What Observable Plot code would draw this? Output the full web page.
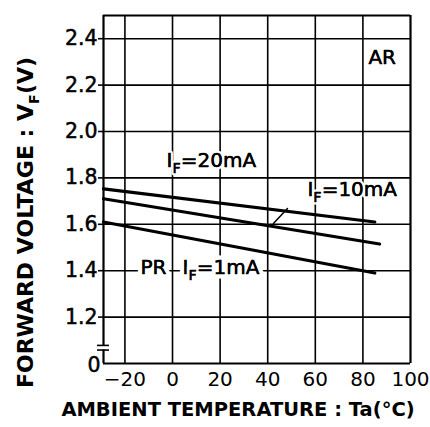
<!DOCTYPE html>
<html><head><meta charset="utf-8">
<script src="https://cdn.jsdelivr.net/npm/d3@7"></script>
<script src="https://cdn.jsdelivr.net/npm/@observablehq/plot@0.6"></script>
<style>body{margin:0;background:#fff}</style>
</head><body><div id="chart"></div>
<script>
// ---- data ----
const tempTicks = [-20, 0, 20, 40, 60, 80, 100];
const voltTicks = [1.0, 1.2, 1.4, 1.6, 1.8, 2.0, 2.2, 2.4];
const voltTickLabels = ["0", "1.2", "1.4", "1.6", "1.8", "2.0", "2.2", "2.4"];
const gridTemps = [-20, 0, 20, 40, 60, 80];
const gridVolts = [1.2, 1.4, 1.6, 1.8, 2.0, 2.2, 2.4];
const tempDomain = [-29, 100];
const voltDomain = [1.0, 2.5];
const axisBreak = [1.058, 1.078];

const temp20 = [-29, 85];  const vf20 = [1.753, 1.61];
const temp10 = [-29, 87];  const vf10 = [1.71, 1.515];
const temp1  = [-29, 85];  const vf1  = [1.61, 1.39];

const labelTexts = ["I_F=20mA", "I_F=10mA", "PR", "I_F=1mA", "AR"];
const labelTemps = [-2.5, 56.7, -13.5, 4.2, 82.3];
const labelVolts = [1.875, 1.748, 1.412, 1.412, 2.319];
const labelHalo  = [5, 5, 9, 9, 5];

const leaderTemps = [48.3, 42.4];
const leaderVolts = [1.668, 1.603];

const xTitle = "AMBIENT TEMPERATURE : Ta(°C)";
const yTitle = "FORWARD VOLTAGE : V_F(V)";

// ---- tables ----
const rows = [
  ...temp20.map((t, i) => ({series: "IF=20mA", t, v: vf20[i]})),
  ...temp10.map((t, i) => ({series: "IF=10mA", t, v: vf10[i]})),
  ...temp1.map((t, i) => ({series: "IF=1mA", t, v: vf1[i]}))
];
const labels = labelTexts.map((s, i) => ({s, t: labelTemps[i], v: labelVolts[i], h: labelHalo[i]}));
const leader = leaderTemps.map((t, i) => ({t, v: leaderVolts[i]}));
const xmin = tempDomain[0], xmax = tempDomain[1];
const ymin = voltDomain[0], ymax = voltDomain[1];
const xFmt = d => d < 0 ? "\u2212" + Math.abs(d) : String(d);
const yFmt = d => voltTickLabels[voltTicks.findIndex(v => Math.abs(v - d) < 1e-9)];

const plot = Plot.plot({
  width: 430, height: 427,
  marginLeft: 103, marginRight: 20, marginTop: 15, marginBottom: 64,
  style: {fontFamily: "DejaVu Sans", fontSize: "20px", color: "black", background: "white"},
  x: {domain: tempDomain, label: null},
  y: {domain: voltDomain, label: null},
  marks: [
    Plot.ruleX(gridTemps, {stroke: "black", strokeWidth: 1.6}),
    Plot.ruleY(gridVolts, {stroke: "black", strokeWidth: 1.6}),
    // frame (top, right, bottom) + broken left side
    Plot.ruleY([ymax, ymin], {stroke: "black", strokeWidth: 2.2}),
    Plot.ruleX([xmax], {stroke: "black", strokeWidth: 2.2}),
    Plot.ruleX([xmin], {y1: axisBreak[1], y2: ymax, stroke: "black", strokeWidth: 2.2}),
    Plot.ruleX([xmin], {y1: ymin, y2: axisBreak[0], stroke: "black", strokeWidth: 2.2}),
    Plot.ruleY(axisBreak, {x1: xmin, x2: xmin, insetLeft: -6, insetRight: -6, stroke: "black", strokeWidth: 1.6}),
    Plot.axisX({ticks: tempTicks, tickFormat: xFmt, tickSize: 0, tickPadding: 8,
      label: null, fill: "black", stroke: "black", strokeWidth: 0.5}),
    Plot.axisY({ticks: voltTicks.slice(1), tickFormat: yFmt, tickSize: 5, tickPadding: 1,
      label: null, strokeWidth: 1.6}),
    Plot.text(voltTicks.slice(1), {x: xmin, y: d => d, text: yFmt, textAnchor: "end", dx: -6,
      fontSize: 20.5, fill: "black", stroke: "black", strokeWidth: 0.5}),
    Plot.text([voltTicks[0]], {x: xmin, y: d => d, text: yFmt, textAnchor: "end", dx: -3, dy: 2,
      fontSize: 20.5, fill: "black", stroke: "black", strokeWidth: 0.5}),
    Plot.line(rows, {x: "t", y: "v", z: "series", stroke: "black", strokeWidth: 3.2}),
    Plot.line(leader, {x: "t", y: "v", stroke: "black", strokeWidth: 1.5}),
    Plot.text(labels, {x: "t", y: "v", text: "s", textAnchor: "start", lineAnchor: "middle",
      fontSize: 20, fill: "black", stroke: "white", strokeWidth: "h"}),
    Plot.text(labels, {x: "t", y: "v", text: "s", textAnchor: "start", lineAnchor: "middle",
      fontSize: 20, fill: "black", stroke: "black", strokeWidth: 0.4}),
    Plot.text([xTitle], {frameAnchor: "bottom", dx: -19, dy: 46, lineAnchor: "middle",
      fontSize: 19.5, fontWeight: "bold", fill: "black"}),
    Plot.text([yTitle], {frameAnchor: "left", dx: -78, dy: 33, rotate: -90,
      textAnchor: "middle", lineAnchor: "middle",
      fontSize: 22, fontWeight: "bold", fill: "black"})
  ]
});

// remove the axisY built-in labels (custom text marks draw them), keep tick lines
plot.querySelectorAll("g[aria-label='y-axis tick label']").forEach(g => g.remove());

// subscripts for "_F"
const ns = "http://www.w3.org/2000/svg";
plot.querySelectorAll("text").forEach(t => {
  const s = t.textContent;
  if (!s.includes("_F") || t.children.length) return;
  const [a, b] = s.split("_F");
  const fs = parseFloat(t.getAttribute("font-size") || getComputedStyle(t).fontSize) || 20;
  const shift = fs * 0.3;
  t.textContent = "";
  const t1 = document.createElementNS(ns, "tspan"); t1.textContent = a;
  const t2 = document.createElementNS(ns, "tspan"); t2.textContent = "F";
  t2.setAttribute("dy", shift); t2.setAttribute("font-size", fs * 0.72);
  const t3 = document.createElementNS(ns, "tspan"); t3.textContent = b;
  t3.setAttribute("dy", -shift);
  t.append(t1, t2, t3);
});
document.getElementById("chart").append(plot);
</script>
</body></html>
